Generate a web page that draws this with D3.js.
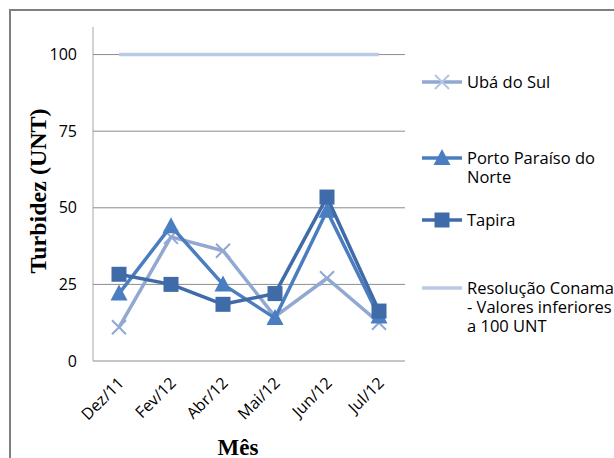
<!DOCTYPE html>
<html>
<head>
<meta charset="utf-8">
<script src="https://cdn.jsdelivr.net/npm/d3@7"></script>
<style>
  body { margin: 0; background: #fff; }
  svg { display: block; }
  .tick-label { font-family: "Open Sans", sans-serif; font-size: 16px; fill: #000; }
  .legend-label { font-family: "Open Sans", sans-serif; font-size: 16.5px; fill: #000; }
  .axis-title { font-family: "Liberation Serif", serif; font-weight: bold; fill: #000; }
</style>
</head>
<body>
<div id="chart"></div>
<script>
// dados
const meses = ["Dez/11", "Fev/12", "Abr/12", "Mai/12", "Jun/12", "Jul/12"];
const ubaDoSul = [11, 40.5, 36, 14.5, 27, 12.5];
const portoParaiso = [22, 44, 25, 14, 49, 14.5];
const tapira = [28.3, 25, 18.5, 22, 53.5, 16.3];
const conama = [100, 100, 100, 100, 100, 100];
const yTicks = [0, 25, 50, 75, 100];

const series = [
  {nome: ["Ubá do Sul"], valores: ubaDoSul, cor: "#90A8D2", marca: "x", ly: 82},
  {nome: ["Porto Paraíso do", "Norte"], valores: portoParaiso, cor: "#4A7EC0", marca: "triangulo", ly: 158},
  {nome: ["Tapira"], valores: tapira, cor: "#3F6BA8", marca: "quadrado", ly: 220},
  {nome: ["Resolução Conama", "- Valores inferiores", "a 100 UNT"], valores: conama, cor: "#B9C9E6", marca: null, ly: 288}
];

const width = 614, height = 458;
const plot = {left: 93, right: 405, top: 27, bottom: 361};

const svg = d3.select("#chart").append("svg")
  .attr("width", width)
  .attr("height", height);

// moldura externa
svg.append("rect")
  .attr("x", 10).attr("y", 10)
  .attr("width", 640).attr("height", 480)
  .attr("fill", "none")
  .attr("stroke", "#7f7f7f")
  .attr("stroke-width", 2);

const x = d3.scaleBand().domain(meses).range([plot.left, plot.right]);
const y = d3.scaleLinear().domain([0, 109]).range([plot.bottom, plot.top]);
const cx = m => x(m) + x.bandwidth() / 2;

// grade horizontal
svg.append("g")
  .selectAll("line")
  .data(yTicks.filter(t => t > 0))
  .enter().append("line")
  .attr("x1", plot.left).attr("x2", plot.right)
  .attr("y1", d => y(d)).attr("y2", d => y(d))
  .attr("stroke", "#8c8c8c")
  .attr("stroke-width", 1);

// eixo y
svg.append("line")
  .attr("x1", plot.left).attr("x2", plot.left)
  .attr("y1", plot.top).attr("y2", plot.bottom)
  .attr("stroke", "#a6a6a6").attr("stroke-width", 1);
// eixo x
svg.append("line")
  .attr("x1", plot.left).attr("x2", plot.right)
  .attr("y1", plot.bottom).attr("y2", plot.bottom)
  .attr("stroke", "#8c8c8c").attr("stroke-width", 1);

svg.append("g")
  .selectAll("text")
  .data(yTicks)
  .enter().append("text")
  .attr("class", "tick-label")
  .attr("x", 77)
  .attr("y", d => y(d))
  .attr("dy", "0.35em")
  .attr("text-anchor", "end")
  .text(d => d);

svg.append("g")
  .selectAll("text")
  .data(meses)
  .enter().append("text")
  .attr("class", "tick-label")
  .attr("font-size", 17.5)
  .attr("text-anchor", "end")
  .attr("transform", d => `translate(${cx(d) + 6},${plot.bottom + 23}) rotate(-45)`)
  .text(d => d);

// títulos dos eixos
svg.append("text")
  .attr("class", "axis-title")
  .attr("font-size", 24)
  .attr("text-anchor", "middle")
  .attr("transform", "translate(46,191) rotate(-90)")
  .text("Turbidez (UNT)");

svg.append("text")
  .attr("class", "axis-title")
  .attr("font-size", 23)
  .attr("text-anchor", "middle")
  .attr("x", 238).attr("y", 455)
  .text("Mês");

const linha = d3.line()
  .x((d, i) => cx(meses[i]))
  .y(d => y(d));

function desenhaMarca(g, tipo, cor) {
  if (tipo === "quadrado") {
    g.append("rect").attr("x", -7.5).attr("y", -7.5).attr("width", 15).attr("height", 15)
      .attr("fill", cor);
  } else if (tipo === "triangulo") {
    g.append("path").attr("d", "M0,-9L8.5,7L-8.5,7Z").attr("fill", cor);
  } else if (tipo === "x") {
    g.append("path").attr("d", "M-7,-7L7,7M-7,7L7,-7")
      .attr("stroke", cor).attr("stroke-width", 2).attr("fill", "none");
  }
}

series.forEach(s => {
  svg.append("path")
    .datum(s.valores)
    .attr("d", linha)
    .attr("fill", "none")
    .attr("stroke", s.cor)
    .attr("stroke-width", 3.5)
    .attr("stroke-linejoin", "round");

  if (s.marca) {
    svg.append("g")
      .selectAll("g")
      .data(s.valores)
      .enter().append("g")
      .attr("transform", (d, i) => `translate(${cx(meses[i])},${y(d)})`)
      .each(function() { desenhaMarca(d3.select(this), s.marca, s.cor); });
  }
});

// legenda
const leg = svg.append("g");
series.forEach(s => {
  leg.append("line")
    .attr("x1", 422).attr("x2", 462)
    .attr("y1", s.ly).attr("y2", s.ly)
    .attr("stroke", s.cor).attr("stroke-width", 3.5);
  if (s.marca) {
    const g = leg.append("g").attr("transform", `translate(442,${s.ly})`);
    desenhaMarca(g, s.marca, s.marca === "x" ? "#b3c6e6" : s.cor);
  }
  const t = leg.append("text")
    .attr("class", "legend-label")
    .attr("x", 467).attr("y", s.ly);
  s.nome.forEach((n, i) => {
    t.append("tspan").attr("x", 467).attr("dy", i === 0 ? "0.35em" : 19).text(n);
  });
});
</script>
</body>
</html>
